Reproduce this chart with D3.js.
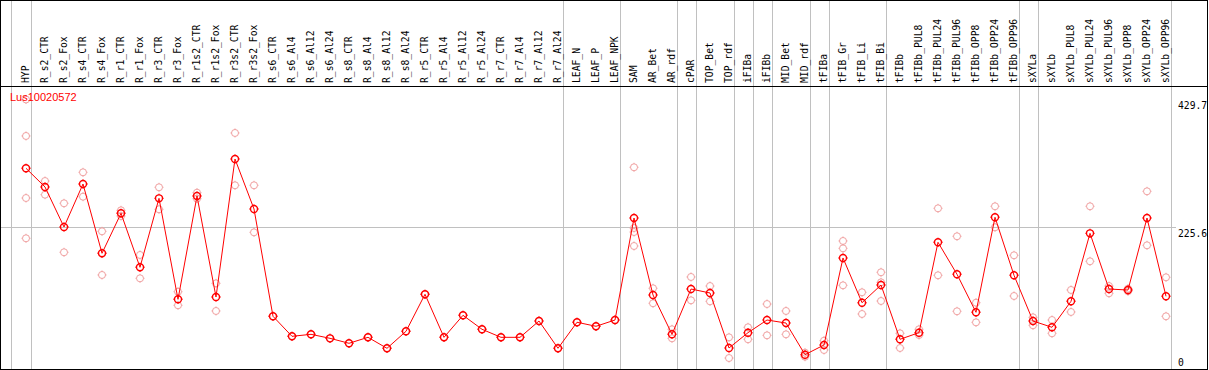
<!DOCTYPE html>
<html>
<head>
<meta charset="utf-8">
<script src="https://cdn.jsdelivr.net/npm/d3@7"></script>
<style>
  body { margin: 0; background: #fff; }
  svg { display: block; }
  .col-label, .tick-label { font-family: "DejaVu Sans Mono", monospace; font-size: 9.7px; fill: #000; }
  .gene-label { font-family: "Liberation Sans", Arial, sans-serif; font-size: 11px; fill: #ff0000; }
</style>
</head>
<body>
<div id="chart"></div>
<script>
const geneId = 'Lus10020572';

const categories = [
    'HYP', 'R_s2_CTR', 'R_s2_Fox', 'R_s4_CTR', 'R_s4_Fox', 'R_r1_CTR', 'R_r1_Fox',
    'R_r3_CTR', 'R_r3_Fox', 'R_r1s2_CTR', 'R_r1s2_Fox', 'R_r3s2_CTR', 'R_r3s2_Fox',
    'R_s6_CTR', 'R_s6_Al4', 'R_s6_Al12', 'R_s6_Al24', 'R_s8_CTR', 'R_s8_Al4', 'R_s8_Al12',
    'R_s8_Al24', 'R_r5_CTR', 'R_r5_Al4', 'R_r5_Al12', 'R_r5_Al24', 'R_r7_CTR', 'R_r7_Al4',
    'R_r7_Al12', 'R_r7_Al24', 'LEAF_N', 'LEAF_P', 'LEAF_NPK', 'SAM', 'AR_Bet', 'AR_rdf',
    'cPAR', 'TOP_Bet', 'TOP_rdf', 'iFIBa', 'iFIBb', 'MID_Bet', 'MID_rdf', 'tFIBa',
    'tFIB_Gr', 'tFIB_Li', 'tFIB_Bi', 'tFIBb', 'tFIBb_PUL8', 'tFIBb_PUL24', 'tFIBb_PUL96',
    'tFIBb_OPP8', 'tFIBb_OPP24', 'tFIBb_OPP96', 'sXYLa', 'sXYLb', 'sXYLb_PUL8',
    'sXYLb_PUL24', 'sXYLb_PUL96', 'sXYLb_OPP8', 'sXYLb_OPP24', 'sXYLb_OPP96'
];

// a separator is drawn after each of these
const groupEnds = [
    'HYP', 'R_r7_Al24', 'LEAF_NPK', 'AR_rdf', 'cPAR', 'TOP_rdf', 'iFIBa', 'iFIBb',
    'MID_rdf', 'tFIBa', 'tFIB_Bi', 'tFIBb_OPP96', 'sXYLa', 'sXYLb_OPP96'
];

const means = [
    320.0, 290.2, 226.4, 294.9, 184.5, 248.2, 162.1, 272.1, 111.1, 275.8, 114.8, 334.8, 255.1,
    84.0, 52.1, 55.3, 48.9, 41.0, 50.5, 33.0, 60.1, 119.1, 50.5, 85.6, 63.3, 50.5, 50.5,
    76.5, 33.0, 74.5, 68.1, 78.1, 240.7, 118.0, 55.3, 127.5, 121.2, 33.5, 57.9, 78.1,
    73.3, 22.8, 38.3, 177.0, 105.7, 133.9, 47.4, 57.9, 202.0, 151.0, 90.4, 241.9, 149.4,
    76.5, 66.5, 107.9, 216.3, 127.5, 125.9, 240.7, 115.9
];

const replicates = [
    [429.7, 371.5, 272.6, 208.4], [299.7, 277.9], [264.2, 186.1], [313.6, 274.7],
    [219.5, 149.9], [253.0, 243.9], [181.8, 144.6], [289.7, 254.6], [123.2, 101.6],
    [281.1, 271.5], [136.6, 92.5], [376.3, 292.9], [292.9, 217.9],
    [84.0], [52.1], [55.3], [48.9], [41.0], [50.5], [33.0], [60.1], [119.1], [50.5],
    [85.6], [63.3], [50.5], [50.5], [76.5], [33.0], [74.5], [68.1], [78.1],
    [321.6, 224.8, 218.4, 196.1], [128.7, 104.8], [63.3, 48.9], [146.7, 109.5],
    [132.3, 107.9], [50.5, 17.5], [66.5, 47.4], [103.6, 53.7], [92.5, 55.3],
    [26.0, 19.6], [45.1, 30.3], [204.1, 192.4, 133.4], [122.3, 87.7],
    [154.2, 138.2, 108.4], [56.9, 33.5], [63.3, 54.2], [256.2, 149.4], [211.6, 92.0],
    [105.7, 74.4], [259.4, 225.9], [181.3, 116.4], [82.4, 69.7], [78.1, 56.9],
    [126.0, 90.9], [259.4, 171.7], [132.3, 120.7], [128.0, 124.0], [283.3, 197.2],
    [146.2, 84.0]
];

const tickValues = [0, 225.6, 429.7];
const gridValues = [225.6];

const width = 1209;
const height = 370;
const plotTop = 86;
const plotBottom = 369;
const rightEdge = 1207;

const svg = d3.select('#chart').append('svg')
    .attr('width', width)
    .attr('height', height);

const x = d3.scalePoint()
    .domain(categories)
    .range([26, 26 + 19 * (categories.length - 1)]);

const yMax = d3.max(tickValues) * 1.05;
const y = d3.scaleLinear()
    .domain([0, yMax])
    .range([plotBottom, plotTop]);

const crisp = v => Math.round(v) + 0.5;

// vertical separators
const sepXs = [x(categories[0]) - 15.5].concat(groupEnds.map(c => x(c) + 4.5));
svg.append('g').selectAll('line')
    .data(sepXs)
    .join('line')
    .attr('x1', d => crisp(d)).attr('x2', d => crisp(d))
    .attr('y1', 0).attr('y2', plotBottom)
    .attr('stroke', '#c0c0c0')
    .attr('shape-rendering', 'crispEdges');

// horizontal grid
svg.append('g').selectAll('line')
    .data(gridValues)
    .join('line')
    .attr('x1', 1).attr('x2', 1176)
    .attr('y1', d => crisp(y(d))).attr('y2', d => crisp(y(d)))
    .attr('stroke', '#c0c0c0')
    .attr('shape-rendering', 'crispEdges');

// frame + header line
svg.append('rect')
    .attr('x', 0.5).attr('y', 0.5)
    .attr('width', rightEdge).attr('height', plotBottom)
    .attr('fill', 'none')
    .attr('stroke', '#000')
    .attr('shape-rendering', 'crispEdges');

svg.append('line')
    .attr('x1', 0).attr('x2', rightEdge)
    .attr('y1', plotTop + 0.5).attr('y2', plotTop + 0.5)
    .attr('stroke', '#000')
    .attr('shape-rendering', 'crispEdges');

// column labels
svg.append('g').selectAll('text')
    .data(categories)
    .join('text')
    .attr('class', 'col-label')
    .attr('transform', d => `translate(${x(d) + 2.5},83) rotate(-90)`)
    .text(d => d);

// y tick labels
svg.append('g').selectAll('text')
    .data(tickValues)
    .join('text')
    .attr('class', 'tick-label')
    .attr('x', 1178)
    .attr('y', d => Math.min(y(d) + 9.5, plotBottom - 3.5))
    .text(d => d);

function marker(g, color, sw) {
    const r = 3.5;
    g.append('circle')
        .attr('r', r)
        .attr('fill', 'none')
        .attr('stroke', color)
        .attr('stroke-width', sw);
    [[0, -1], [0, 1], [-1, 0], [1, 0]].forEach(([dx, dy]) => {
        g.append('line')
            .attr('x1', dx * r).attr('y1', dy * r)
            .attr('x2', dx * (r + 1)).attr('y2', dy * (r + 1))
            .attr('stroke', color)
            .attr('stroke-width', sw);
    });
}

// replicate points
const repPoints = replicates.flatMap((vals, i) => vals.map(v => ({ cat: categories[i], v })));
svg.append('g').selectAll('g')
    .data(repPoints)
    .join('g')
    .attr('transform', d => `translate(${x(d.cat)},${y(d.v)})`)
    .each(function () { marker(d3.select(this), '#f0a0a0', 1); });

// mean line
const line = d3.line()
    .x((d, i) => x(categories[i]))
    .y(d => y(d));

svg.append('path')
    .datum(means)
    .attr('d', line)
    .attr('fill', 'none')
    .attr('stroke', '#ff0000')
    .attr('stroke-width', 1);

svg.append('g').selectAll('g')
    .data(means)
    .join('g')
    .attr('transform', (d, i) => `translate(${x(categories[i])},${y(d)})`)
    .each(function () { marker(d3.select(this), '#ff0000', 1.4); });

svg.append('text')
    .attr('class', 'gene-label')
    .attr('x', 10)
    .attr('y', 101)
    .text(geneId);
</script>
</body>
</html>
